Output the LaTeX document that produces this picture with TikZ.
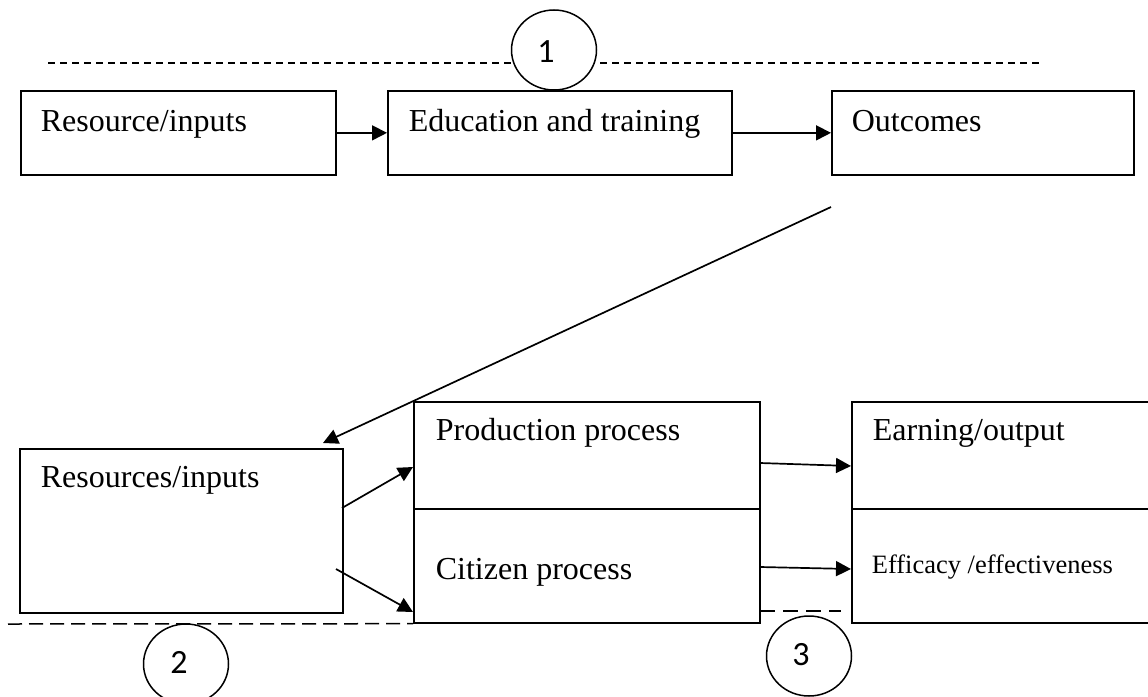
\documentclass[tikz,border=0pt]{standalone}
\usepackage{fontspec}
\setmainfont{Liberation Serif}
\newfontfamily\numfont{Carlito}
\usetikzlibrary{arrows.meta,positioning,shapes.geometric}

\begin{document}
\begin{tikzpicture}[x=1pt,y=-1pt,
  line width=1.7pt,
  box/.style={draw,rectangle,anchor=north west,inner sep=0pt,
    minimum width=#1},
  txt/.style={anchor=base west,inner sep=0pt,font=\fontsize{32}{38}\selectfont},
  smalltxt/.style={anchor=base west,inner sep=0pt,font=\fontsize{26.5}{32}\selectfont},
  flow/.style={-{Triangle[length=15pt,width=15pt]}},
  marker/.style={draw,fill=white,ellipse,line width=1.5pt,inner sep=0pt,
    minimum width=85pt,minimum height=80pt},
  digit/.style={inner sep=0pt,font=\numfont\fontsize{34}{40}\selectfont},
  topdash/.style={line width=1.5pt,dash pattern=on 7pt off 5pt},
  lowdash/.style={line width=1.5pt,dash pattern=on 14pt off 7pt},
]
\useasboundingbox (0,0) rectangle (1148,696);

% upper dashed rule with marker 1
\coordinate (d1a) at (48,63);
\coordinate (d1b) at (1043,63);
\draw[topdash] (d1a) -- (d1b);
\node[marker] (m1) at (554,50) {};
\node[digit] (n1) at (546,52) {1};

% upper chain of boxes
\node[box=315pt,minimum height=84pt] (resA) at (20,90) {};
\node[box=344pt,minimum height=84pt] (edu) at (387,90) {};
\node[box=302pt,minimum height=84pt] (out) at (831,90) {};
\node[txt] (tA) at (40,131) {Resource/inputs};
\node[txt] (tB) at (408,131) {Education and training};
\node[txt] (tC) at (851,131) {Outcomes};

\draw[flow] (resA.east) -- (edu.west);
\draw[flow] (edu.east) -- (out.west);

% feedback from outcomes to the lower resources box
\coordinate (fb) at (831,207);
\coordinate (fbend) at (323,443);
\draw[flow] (fb) -- (fbend);

% lower boxes
\node[box=323pt,minimum height=164pt] (resB) at (19,448) {};
\node[box=346pt,minimum height=107pt] (prod) at (413,401) {};
\node[box=346pt,minimum height=114pt] (cit) at (413,508) {};
\node[box=310pt,minimum height=107pt] (earn) at (851,401) {};
\node[box=310pt,minimum height=114pt] (eff) at (851,508) {};

\node[txt] (tD) at (40,487) {Resources/inputs};
\node[txt] (tE) at (435,440) {Production process};
\node[txt] (tF) at (435,579) {Citizen process};
\node[txt] (tG) at (872,440) {Earning/output};
\node[smalltxt] (tH) at (871,573) {Efficacy /effectiveness};

% lower connectors
\coordinate (r1) at (342,508);
\coordinate (p1) at (413,467);
\coordinate (r2) at (336,569);
\coordinate (c2) at (413,612);
\draw[flow] (r1) -- (p1);
\draw[flow] (r2) -- (c2);
\coordinate (pe1) at (760,463);
\coordinate (pe2) at (851,466);
\coordinate (ce1) at (760,567);
\coordinate (ce2) at (851,569);
\draw[flow] (pe1) -- (pe2);
\draw[flow] (ce1) -- (ce2);

% lower dashed rules with markers 2 and 3
\coordinate (d2a) at (8,624);
\draw[lowdash] (d2a) -- (cit.south west);
\node[marker] (m2) at (186,664) {};
\node[digit] (n2) at (179,662) {2};

\coordinate (d3a) at (760,611);
\coordinate (d3b) at (841,611);
\draw[line width=1.5pt,dash pattern=on 15pt off 8pt] (d3a) -- (d3b);
\node[marker] (m3) at (809,656) {};
\node[digit] (n3) at (801,655) {3};
\end{tikzpicture}
\end{document}
